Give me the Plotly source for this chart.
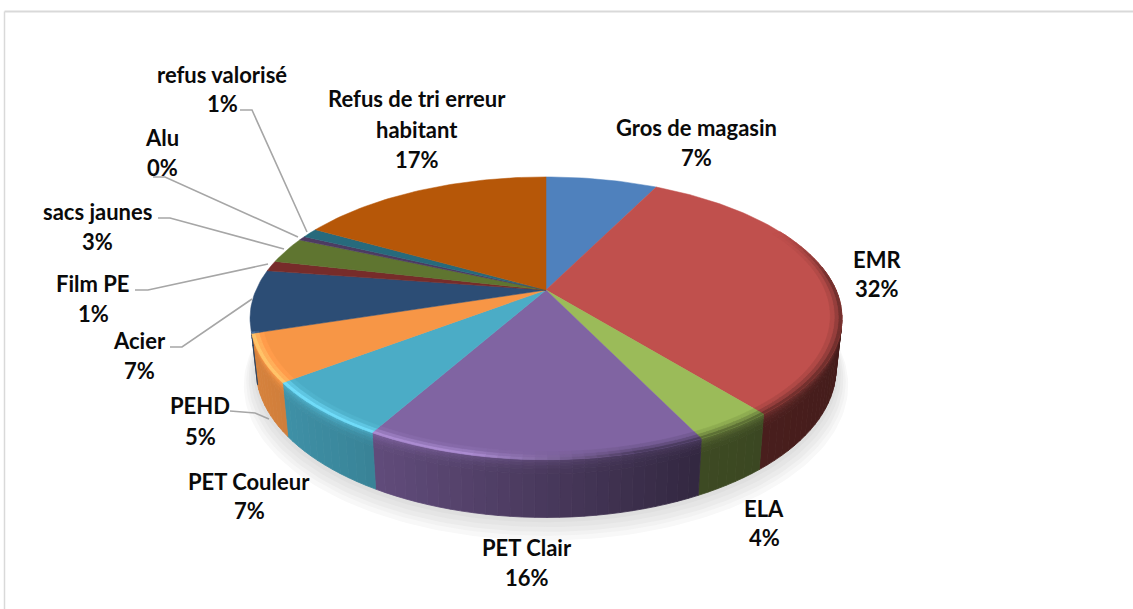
import math
import numpy as np
import plotly.graph_objects as go

# ---- data -------------------------------------------------------------
categories = ["Gros de magasin", "EMR", "ELA", "PET Clair", "PET Couleur", "PEHD",
              "Acier", "Film PE", "sacs jaunes", "Alu", "refus valorisé",
              "Refus de tri erreur habitant"]
values = [7.4, 31.7, 3.7, 15.5, 6.5, 5.4, 7.2, 1.2, 3.0, 0.49, 1.1, 16.9]
colors = ["#4F81BD", "#C0504D", "#9BBB59", "#8064A2", "#4BACC6", "#F79646",
          "#2C4D75", "#772C2A", "#5F7530", "#4D3B62", "#276A7C", "#B65708"]

# label lines: centre positions in page pixels
label_lines = [
    (["Gros de magasin"], 696, [127, 157]),
    (["EMR"], 877, [259, 288]),
    (["ELA"], 764, [508, 537]),
    (["PET Clair"], 527, [547, 577]),
    (["PET Couleur"], 249, [481, 510]),
    (["PEHD"], 200, [405, 436]),
    (["Acier"], 139, [340, 370]),
    (["Film PE"], 93, [283, 313]),
    (["sacs jaunes"], 97, [211, 241]),
    (["Alu"], 162, [137, 167]),
    (["refus valorisé"], 222, [74, 103]),
    (["Refus de tri erreur", "habitant"], 417, [98, 129, 159]),
]
leaders = [
    ([230, 255, 269], [411, 413, 419]),
    ([170, 182, 252], [347, 347, 299]),
    ([135, 148, 268], [290, 290, 264]),
    ([158, 170, 284], [218, 218, 249]),
    ([153, 165, 298], [177, 177, 237]),
    ([240, 252, 307], [110, 110, 232]),
]

# ---- projection -------------------------------------------------------
W, H = 1133, 609
CX, CY, RX, RY, K, DEPTH, SHRINK = 546.0, 290.0, 290.0, 135.7, 0.2, 50.0, 0.02


def project(t, r=1.0, z=0.0):
    """t: clockwise angle from the top (rad), r: radius share, z: share of wall depth."""
    u, v = r * np.sin(t), r * np.cos(t)
    d = 1 + K * v
    s = 1 - SHRINK * z
    return CX + s * RX * u / d, CY + s * (-RY * v / d + DEPTH * z / d)


def hex2rgb(c):
    return np.array([int(c[i:i + 2], 16) for i in (1, 3, 5)], float)


def rgb(a):
    a = np.clip(a, 0, 255)
    return "rgb(%d,%d,%d)" % tuple(a)


def poly(fig, xs, ys, color, lw=0.8):
    fig.add_trace(go.Scatter(x=xs, y=ys, mode="lines", fill="toself", fillcolor=color,
                             line=dict(color=color, width=lw), hoverinfo="skip",
                             showlegend=False))


fig = go.Figure()

total = sum(values)
edges = 2 * math.pi * np.cumsum([0] + values) / total

# soft shadow beneath the pie
aa = np.linspace(0, 2 * math.pi, 240)
for m, dy, col in [(1.04, 14, "#F8F8F8"), (1.032, 11, "#F2F2F2"), (1.024, 9, "#EBEBEB"),
                   (1.016, 6, "#E5E5E5"), (1.008, 3, "#DFDFDF")]:
    x, y = project(aa, m, 1.0)
    poly(fig, list(x), list(y + dy), col, 0)

WALL_X = [240, 375, 700, 845]
WALL_F = [0.88, 0.76, 0.40, 0.36]
STEP = math.radians(2.0)
# wall rows: depth shares and how much of the rim colour they keep
ROWS = [(0.00, 0.05, 0.95), (0.05, 0.10, 0.62), (0.10, 0.16, 0.30), (0.16, 0.24, 0.10), (0.24, 1.00, 0.0)]

for i in range(len(values)):
    a0, a1 = edges[i], edges[i + 1]
    base = hex2rgb(colors[i])
    lo, hi = max(a0, math.radians(80)), min(a1, math.radians(253))
    if hi <= lo:
        continue
    n = max(1, int(round((hi - lo) / STEP)))
    ts = np.linspace(lo, hi, n + 1)
    for j in range(n):
        tm = (ts[j] + ts[j + 1]) / 2
        xm = project(tm)[0]
        f = float(np.interp(xm, WALL_X, WALL_F))
        side = float(np.interp(xm, [330, 640], [1.0, 0.0]))  # light comes from the left
        rim = base * (1.0 * side + 0.55 * (1 - side))
        for z0, z1, blend in ROWS:
            c = base * f + (rim - base * f) * blend
            xa, ya = project(ts[j], 1, z0)
            xb, yb = project(ts[j + 1], 1, z0)
            xc, yc = project(ts[j + 1], 1, z1)
            xd, yd = project(ts[j], 1, z1)
            poly(fig, [xa, xb, xc, xd, xa], [ya, yb, yc, yd, ya], rgb(c))

# top surface, drawn on top of the walls
for i in range(len(values)):
    ts = np.linspace(edges[i], edges[i + 1], max(3, int((edges[i + 1] - edges[i]) / 0.02)))
    x, y = project(ts)
    poly(fig, [CX] + list(x) + [CX], [CY] + list(y) + [CY], colors[i], 0.5)

# bevel along the front rim of the top surface
BEVEL = [(0.988, 1.0, 1.0, 0.60), (0.975, 0.988, 0.55, 0.78), (0.962, 0.975, 0.15, 0.92)]
for i in range(len(values)):
    base = hex2rgb(colors[i])
    lo, hi = max(edges[i], math.radians(62)), min(edges[i + 1], math.radians(253))
    if hi <= lo:
        continue
    n = max(1, int(round((hi - lo) / STEP)))
    ts = np.linspace(lo, hi, n + 1)
    for j in range(n):
        tm = (ts[j] + ts[j + 1]) / 2
        xm = project(tm)[0]
        side = float(np.interp(xm, [470, 640], [1.0, 0.0]))
        fade = float(np.interp(tm, [math.radians(62), math.radians(85)], [0.0, 1.0]))
        light = base * 1.12 + 28
        for r0, r1, lg, dk in BEVEL:
            lit = base + (light - base) * lg
            shade = base * dk
            c = base + ((lit * side + shade * (1 - side)) - base) * fade
            xa, ya = project(ts[j], r0)
            xb, yb = project(ts[j + 1], r0)
            xc, yc = project(ts[j + 1], r1)
            xd, yd = project(ts[j], r1)
            poly(fig, [xa, xb, xc, xd, xa], [ya, yb, yc, yd, ya], rgb(c), 0.6)

# leader lines
for lx, ly in leaders:
    fig.add_trace(go.Scatter(x=lx, y=ly, mode="lines", line=dict(color="#A6A6A6", width=1.6),
                             hoverinfo="skip", showlegend=False))

# ---- labels -----------------------------------------------------------
annots = []
for (lines, lx, lys), v in zip(label_lines, values):
    for txt, ly in zip(lines + ["%d%%" % int(v + 0.5)], lys):
        annots.append(dict(x=lx, y=ly, xref="x", yref="y", text="<b>%s</b>" % txt, showarrow=False,
                           xanchor="center", yanchor="middle",
                           font=dict(family="Lato", size=22, color="#0A0A0A")))

fig.update_layout(
    width=W, height=H, margin=dict(l=0, r=0, t=0, b=0), showlegend=False,
    paper_bgcolor="white", plot_bgcolor="white",
    xaxis=dict(range=[0, W], visible=False, fixedrange=True),
    yaxis=dict(range=[H, 0], visible=False, fixedrange=True),
    annotations=annots,
    shapes=[dict(type="line", xref="paper", yref="paper", x0=4.5 / W, x1=1, y0=1 - 11.5 / H, y1=1 - 11.5 / H,
                 line=dict(color="#D9D9D9", width=2)),
            dict(type="line", xref="paper", yref="paper", x0=4.5 / W, x1=4.5 / W, y0=0, y1=1 - 11.5 / H,
                 line=dict(color="#D9D9D9", width=1.5))],
)
fig.write_html("out.html", config={"displayModeBar": False},
               post_script="document.body.style.margin='0';document.body.style.overflow='hidden';")
